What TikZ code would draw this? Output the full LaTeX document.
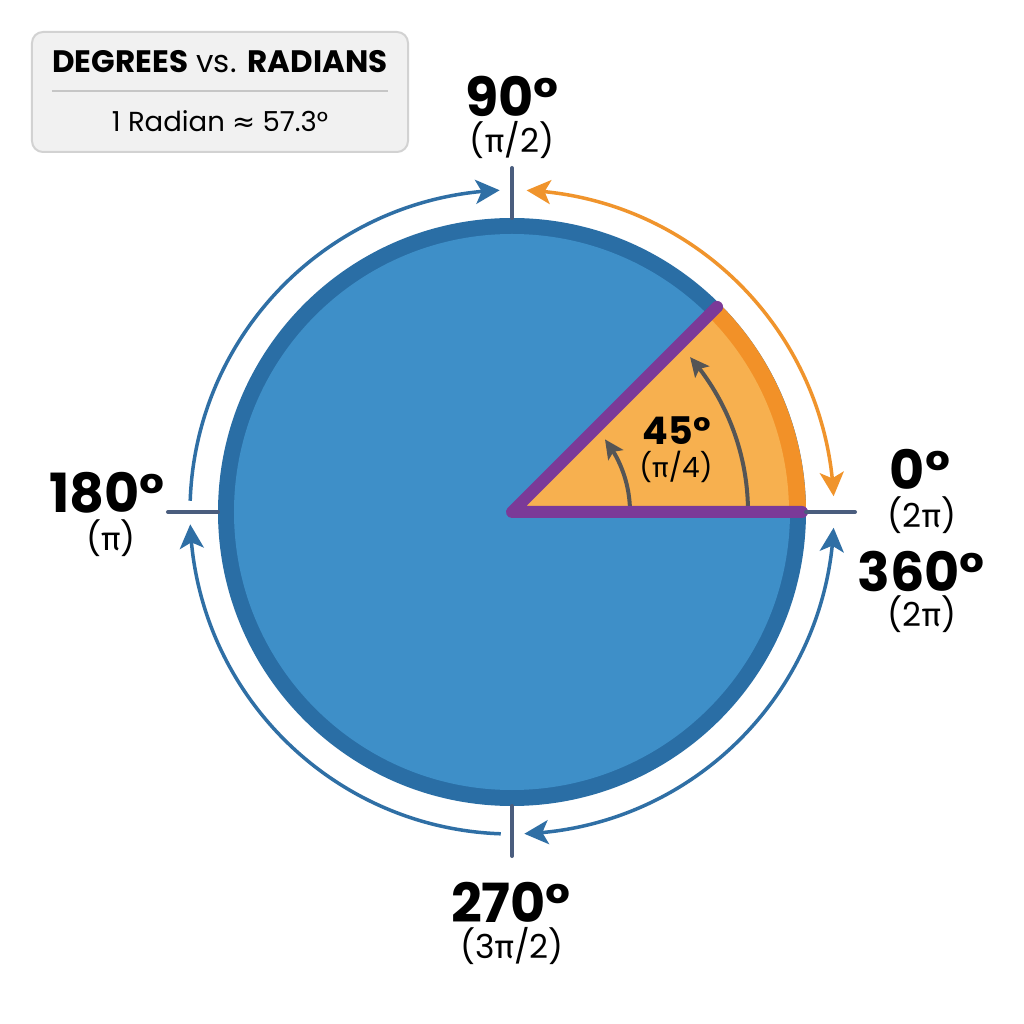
\documentclass[tikz,border=0pt]{standalone}
\usepackage{fontspec}
\setmainfont{Poppins}
\newfontfamily\gk{Fira Sans}
\newfontfamily\symf{DejaVu Sans}
\usetikzlibrary{arrows.meta,bending}
\definecolor{cfill}{HTML}{3E8FC8}
\definecolor{cring}{HTML}{2A6EA5}
\definecolor{ofill}{HTML}{F7B04F}
\definecolor{orim}{HTML}{F29128}
\definecolor{purp}{HTML}{7B3A98}
\definecolor{arcblue}{HTML}{2F6FA5}
\definecolor{arcorange}{HTML}{F0942C}
\definecolor{tickc}{HTML}{4A5D7E}
\definecolor{grayarrow}{HTML}{555555}
\definecolor{boxfill}{HTML}{F1F1F1}
\definecolor{boxline}{HTML}{D2D2D2}
\definecolor{sepline}{HTML}{C6C6C6}
\tikzset{
  deglabel/.style={inner sep=0pt, anchor=base, text height=0.72em, text depth=0pt, font=\fontsize{54}{60}\selectfont\bfseries},
  radlabel/.style={inner sep=0pt, anchor=base, text height=0.7em, text depth=0.1em, font=\fontsize{33}{38}\selectfont},
  smalldeg/.style={inner sep=0pt, anchor=base, text height=0.72em, text depth=0pt, font=\fontsize{38}{44}\selectfont\bfseries},
  smallrad/.style={inner sep=0pt, anchor=base, text height=0.7em, text depth=0.1em, font=\fontsize{28}{32}\selectfont},
  ticklines/.style={tickc, line width=4pt, line cap=round},
  bluearc/.style={arcblue, line width=3.5pt},
  orangearc/.style={arcorange, line width=3.5pt},
  tipo/.tip={Stealth[length=24pt,width=24pt,inset=6pt]},
  tipi/.tip={Stealth[length=19pt,width=18pt,inset=4pt]},
  innerarrow/.style={grayarrow, line width=4pt, -tipi},
}
\begin{document}
\begin{tikzpicture}[x=1pt,y=1pt]
\useasboundingbox[fill=white] (-512,-512) rectangle (512,512);
\coordinate (O) at (0,0);
% main circle
\fill[cring] (O) circle (294);
\fill[cfill] (O) circle (278);
% sector
\fill[orim] (O) -- (0:294) arc (0:45:294) -- cycle;
\fill[ofill] (O) -- (0:277) arc (0:45:277) -- cycle;
% inner arrows
\draw[innerarrow] (0:118) arc (0:38:118);
\draw[innerarrow] (0:236) arc (0:41:236);
% purple radii
\coordinate (P45) at (45:290);
\coordinate (P0) at (0:290);
\draw[purp, line width=12pt, line cap=round, line join=round] (P45) -- (O) -- (P0);
% ticks
\coordinate (T90a) at (90:294); \coordinate (T90b) at (90:344);
\coordinate (T180a) at (180:294); \coordinate (T180b) at (180:344);
\coordinate (T0a) at (0:294); \coordinate (T0b) at (0:343);
\coordinate (T270a) at (270:294); \coordinate (T270b) at (270:344);
\draw[ticklines] (T90a) -- (T90b);
\draw[ticklines] (T180a) -- (T180b);
\draw[ticklines] (T0a) -- (T0b);
\draw[ticklines] (T270a) -- (T270b);
% outer arcs
\draw[bluearc, -tipo] (178:322) arc (178:92.2:322);
\draw[orangearc, tipo-tipo] (87.4:322) arc (87.4:2.8:322);
\draw[bluearc, tipo-tipo] (-2.8:322) arc (-2.8:-87.8:322);
\draw[bluearc, -tipo] (-92:322) arc (-92:-177.8:322);
% labels
\node[deglabel] (d90) at (0,395) {90°};
\node[radlabel] (r90) at (0,359) {({\gk π}/2)};
\node[deglabel] (d180) at (-405,-1) {180°};
\node[radlabel] (r180) at (-401,-39) {({\gk π})};
\node[deglabel] (d0) at (408,22) {0°};
\node[radlabel] (r0) at (410,-16) {(2{\gk π})};
\node[deglabel] (d360) at (409,-80) {360°};
\node[radlabel] (r360) at (410,-114) {(2{\gk π})};
\node[deglabel] (d270) at (-1,-410) {270°};
\node[radlabel] (r270) at (0,-446) {(3{\gk π}/2)};
\node[smalldeg] (d45) at (165,67) {45°};
\node[smallrad] (r45) at (164,34) {({\gk π}/4)};
% title box
\draw[fill=boxfill, draw=boxline, line width=2pt, rounded corners=11pt] (-480,480) rectangle (-104,360);
\node[inner sep=0pt, anchor=base, font=\fontsize{31}{35}\selectfont] (title) at (-292,439) {\textbf{DEGREES} vs. \textbf{RADIANS}};
\coordinate (SL) at (-460,421);
\coordinate (SR) at (-124,421);
\draw[sepline, line width=2pt] (SL) -- (SR);
\node[inner sep=0pt, anchor=base, font=\fontsize{27.5}{31}\selectfont] (sub) at (-292,380) {1 Radian {\symf ≈} 57.3°};
\end{tikzpicture}
\end{document}
